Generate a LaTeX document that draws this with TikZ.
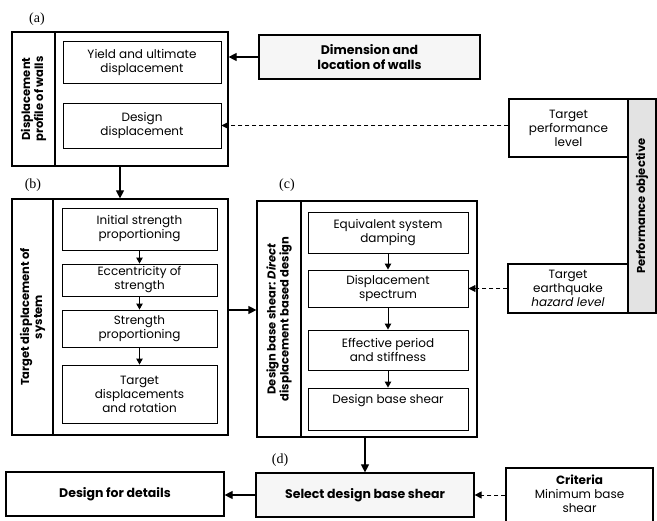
\documentclass[tikz,border=0pt]{standalone}
\usepackage{fontspec}
\setmainfont{Poppins}
\newfontfamily\serifz{Liberation Serif}
\usetikzlibrary{arrows.meta}
\tikzset{
  outerbox/.style={draw,line width=1.2pt,inner sep=0pt},
  innerbox/.style={draw,line width=0.9pt,inner sep=0pt,align=center,font=\fontsize{12}{14}\selectfont},
  labcol/.style={draw,line width=1.2pt,inner sep=0pt},
  rottext/.style={rotate=90,align=center,font=\bfseries\fontsize{11.5}{13}\selectfont},
  boldbox/.style={draw,line width=1.2pt,inner sep=0pt,align=center,font=\bfseries\fontsize{12.5}{14.5}\selectfont},
  conn/.style={line width=1.2pt,-{Triangle[length=8pt,width=8pt]}},
  sconn/.style={line width=1pt,-{Triangle[length=6pt,width=6.5pt]}},
  dconn/.style={line width=0.9pt,dashed,dash pattern=on 4pt off 3pt,-{Triangle[length=7pt,width=7pt]}},
  tag/.style={font=\serifz\fontsize{14}{15}\selectfont}
}
\begin{document}
\begin{tikzpicture}[x=1pt,y=-1pt]
\useasboundingbox (0,0) rectangle (657,521);
% (a)
\node[tag] (ta) at (37,19) {(a)};
\node[outerbox,minimum width=216,minimum height=134] (aout) at (120,99) {};
\node[labcol,minimum width=43,minimum height=134] (alab) at (33.5,99) {};
\node[rottext] (alabt) at (33.5,99) {Displacement\\profile of walls};
\node[innerbox,minimum width=158,minimum height=42] (yld) at (142,62) {Yield and ultimate\\displacement};
\node[innerbox,minimum width=158,minimum height=45] (dd) at (142,125.5) {Design\\displacement};
\node[boldbox,fill=gray!7,minimum width=221,minimum height=44] (dim) at (369.5,57) {Dimension and\\location of walls};
\draw[conn] (dim.west) -- (dim.west -| aout.east);
% performance objective
\node[innerbox,line width=1.1pt,minimum width=119,minimum height=58] (tpl) at (568.5,128) {Target\\performance\\level};
\node[labcol,fill=gray!22,minimum width=28,minimum height=214] (po) at (642,206) {};
\node[rottext] (pot) at (642,206) {Performance objective};
\node[innerbox,line width=1.1pt,minimum width=120,minimum height=49] (teh) at (568,288.5) {Target\\earthquake\\\emph{hazard level}};
\draw[dconn] (dd.east -| tpl.west) -- (dd.east);
% (b)
\node[tag] (tb) at (33,185) {(b)};
\node[outerbox,minimum width=216,minimum height=236] (bout) at (120,317) {};
\node[labcol,minimum width=41,minimum height=236] (blab) at (32.5,317) {};
\node[rottext] (blabt) at (32.5,317) {Target displacement of\\system};
\node[innerbox,minimum width=155,minimum height=42] (b1) at (139.5,229) {Initial strength\\proportioning};
\node[innerbox,minimum width=155,minimum height=32] (b2) at (139.5,280) {Eccentricity of\\strength};
\node[innerbox,minimum width=155,minimum height=37] (b3) at (139.5,328.5) {Strength\\proportioning};
\node[innerbox,minimum width=155,minimum height=58] (b4) at (139.5,394) {Target\\displacements\\and rotation};
\draw[conn] (aout.south) -- (aout.south |- bout.north);
\draw[sconn] (b1.south) -- (b2.north);
\draw[sconn] (b2.south) -- (b3.north);
\draw[sconn] (b3.south) -- (b4.north);
% (c)
\node[tag] (tc) at (287,185) {(c)};
\node[outerbox,minimum width=220,minimum height=236] (cout) at (367,319) {};
\node[labcol,minimum width=44,minimum height=236] (clab) at (279,319) {};
\node[rottext] (clabt) at (279,319) {Design base shear: \emph{Direct}\\displacement based design};
\node[innerbox,minimum width=160,minimum height=41] (c1) at (388,232.5) {Equivalent system\\damping};
\node[innerbox,minimum width=160,minimum height=37] (c2) at (388,288.5) {Displacement\\spectrum};
\node[innerbox,minimum width=160,minimum height=40] (c3) at (388,350) {Effective period\\and stiffness};
\node[innerbox,minimum width=160,minimum height=42] (c4) at (388,409) {};
\node[font=\fontsize{12}{14}\selectfont] (c4t) at (388,401) {Design base shear};
\draw[sconn] (c1.south) -- (c2.north);
\draw[sconn] (c2.south) -- (c3.north);
\draw[sconn] (c3.south) -- (c4.north);
\draw[conn] ([yshift=7pt]bout.east) -- ([yshift=7pt]bout.east -| cout.west);
\draw[dconn] (teh.west) -- (c2.east);
% (d)
\node[tag] (td) at (280,460) {(d)};
\node[boldbox,fill=gray!7,minimum width=218,minimum height=44] (sel) at (365,495) {Select design base shear};
\node[boldbox,minimum width=218,minimum height=44] (dfd) at (115,494) {Design for details};
\node[outerbox,minimum width=147,minimum height=62] (crit) at (579.5,499) {};
\node[align=center,font=\fontsize{12}{14}\selectfont] (critt) at (579.5,494) {\textbf{Criteria}\\Minimum base\\shear};
\draw[conn] (cout.south -| sel.north) -- (sel.north);
\draw[conn] (sel.west) -- (sel.west -| dfd.east);
\draw[dconn] (sel.east -| crit.west) -- (sel.east);
\end{tikzpicture}
\end{document}
